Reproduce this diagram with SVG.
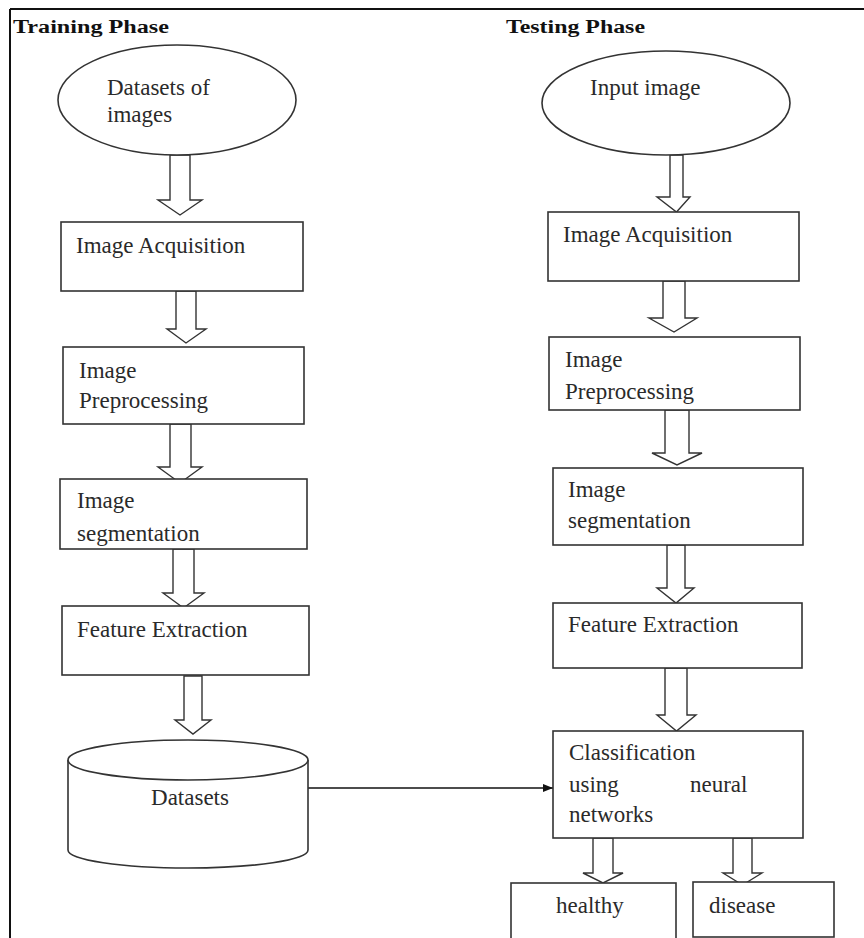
<svg xmlns="http://www.w3.org/2000/svg" width="864" height="938" viewBox="0 0 864 938">
<defs>
<style>
.t{font-family:"Liberation Serif","Times New Roman",serif;font-size:23px;fill:#2a2a2a}
.h{font-family:"Liberation Serif","Times New Roman",serif;font-size:18px;font-weight:bold;fill:#111}
.b{fill:#fff;stroke:#333;stroke-width:1.6}
.a{fill:#fff;stroke:#333;stroke-width:1.4;stroke-linejoin:miter}
</style>
<marker id="ah" viewBox="0 0 10 10" refX="10" refY="5" markerWidth="10" markerHeight="10" markerUnits="userSpaceOnUse" orient="auto">
<path d="M0,1 L10,5 L0,9 Z" fill="#111"/>
</marker>
</defs>
<rect width="864" height="938" fill="#fff"/>
<g id="frame">
<line x1="10" y1="9" x2="864" y2="9" stroke="#111" stroke-width="2"/>
<line x1="10" y1="9" x2="10" y2="938" stroke="#111" stroke-width="2"/>
<text class="h" x="13" y="33" textLength="156" lengthAdjust="spacingAndGlyphs">Training Phase</text>
<text class="h" x="506" y="33" textLength="139" lengthAdjust="spacingAndGlyphs">Testing Phase</text>
</g>
<g id="connectors">
<polygon class="a" points="170,155 190,155 190,200 202,200 180,215 158,200 170,200"/>
<polygon class="a" points="176,291 196,291 196,329 206,329 186,343 167,329 176,329"/>
<polygon class="a" points="170,424 191,424 191,467 202,467 180,483 158,467 170,467"/>
<polygon class="a" points="173,549 194,549 194,593 204,593 183.5,608 163,593 173,593"/>
<polygon class="a" points="184,676 202,676 202,720 211,720 193,734 175,720 184,720"/>
<polygon class="a" points="670,155 683,155 683,197 690,197 676.5,212 657,197 670,197"/>
<polygon class="a" points="663,281 685,281 685,318 697,318 674,332 649,318 663,318"/>
<polygon class="a" points="665,410 689,410 689,453 702,453 677,465 652,453 665,453"/>
<polygon class="a" points="667,545 685,545 685,588 694,588 676,603 657,588 667,588"/>
<polygon class="a" points="665,668 687,668 687,715 696,715 676.5,731 657,715 665,715"/>
<polygon class="a" points="593,838 613,838 613,873 623,873 603,883 583,873 593,873"/>
<polygon class="a" points="733,838 752,838 752,873 762,873 742.5,885 723,873 733,873"/>
<line x1="308" y1="788" x2="553" y2="788" stroke="#111" stroke-width="1.3" marker-end="url(#ah)"/>
</g>
<g id="datasets-of-images">
<ellipse class="b" cx="177" cy="100" rx="119" ry="55"/>
<text class="t" x="107" y="95">Datasets  of</text>
<text class="t" x="107" y="122">images</text>
</g>
<g id="train-acquisition">
<rect class="b" x="61" y="222" width="242" height="69"/>
<text class="t" x="76" y="253">Image Acquisition</text>
</g>
<g id="train-preprocessing">
<rect class="b" x="63" y="347" width="241" height="77"/>
<text class="t" x="79" y="378">Image</text>
<text class="t" x="79" y="408">Preprocessing</text>
</g>
<g id="train-segmentation">
<rect class="b" x="60" y="479" width="247" height="70"/>
<text class="t" x="77" y="508">Image</text>
<text class="t" x="77" y="541">segmentation</text>
</g>
<g id="train-feature">
<rect class="b" x="62" y="606" width="247" height="69"/>
<text class="t" x="77" y="637">Feature Extraction</text>
</g>
<g id="datasets">
<path class="b" d="M68,760 L68,850 A120,18 0 0,0 308,850 L308,760"/>
<ellipse class="b" cx="188" cy="760" rx="120" ry="20"/>
<text class="t" x="190" y="805" text-anchor="middle">Datasets</text>
</g>
<g id="input-image">
<ellipse class="b" cx="666" cy="103" rx="124" ry="52"/>
<text class="t" x="590" y="95">Input image</text>
</g>
<g id="test-acquisition">
<rect class="b" x="548" y="212" width="251" height="69"/>
<text class="t" x="563" y="242">Image Acquisition</text>
</g>
<g id="test-preprocessing">
<rect class="b" x="549" y="337" width="251" height="73"/>
<text class="t" x="565" y="367">Image</text>
<text class="t" x="565" y="399">Preprocessing</text>
</g>
<g id="test-segmentation">
<rect class="b" x="553" y="468" width="250" height="77"/>
<text class="t" x="568" y="497">Image</text>
<text class="t" x="568" y="528">segmentation</text>
</g>
<g id="test-feature">
<rect class="b" x="553" y="603" width="249" height="65"/>
<text class="t" x="568" y="632">Feature Extraction</text>
</g>
<g id="classification">
<rect class="b" x="553" y="731" width="250" height="107"/>
<text class="t" x="569" y="760">Classification</text>
<text class="t" x="569" y="792">using</text>
<text class="t" x="690" y="792">neural</text>
<text class="t" x="569" y="822">networks</text>
</g>
<g id="healthy">
<rect class="b" x="511" y="883" width="165" height="60"/>
<text class="t" x="556" y="913">healthy</text>
</g>
<g id="disease">
<rect class="b" x="693" y="882" width="141" height="55"/>
<text class="t" x="709" y="913">disease</text>
</g>
</svg>
